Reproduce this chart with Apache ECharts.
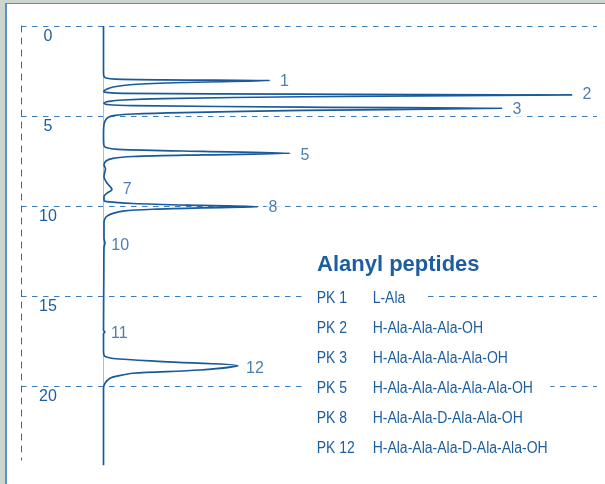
<!DOCTYPE html>
<html>
<head>
<meta charset="utf-8">
<script src="https://cdn.jsdelivr.net/npm/echarts@6/dist/echarts.min.js"></script>
<style>
  html, body { margin: 0; padding: 0; background: #ffffff; }
  #wrap { position: relative; width: 605px; height: 484px; overflow: hidden; background: #ffffff; }
  #stripL { position: absolute; left: 0; top: 0; width: 5px; height: 484px; background: #ccd6cf; }
  #lineL { position: absolute; left: 5px; top: 3px; width: 1.5px; height: 481px; background: #5e8fc3; }
  #stripT { position: absolute; left: 0; top: 0; width: 605px; height: 3px; background: #ccd6cf; }
  #lineT { position: absolute; left: 5px; top: 3px; width: 600px; height: 1px; background: #5e8fc3; }
  #chart { position: absolute; left: 0; top: 0; width: 605px; height: 484px; }
</style>
</head>
<body>
<div id="wrap">
  <div id="stripL"></div><div id="stripT"></div><div id="lineL"></div><div id="lineT"></div>
  <div id="chart"></div>
</div>
<script>
// ---- data ----
// retention time (min) of each trace point
const traceTime = [
  0, 2.6, 2.8, 2.89, 2.95, 2.99, 3.03, 3.14, 3.25, 3.39, 3.53, 3.64,
  3.69, 3.74, 3.79, 3.83, 3.93, 4.03, 4.11, 4.19, 4.29,
  4.36, 4.42, 4.51, 4.57, 4.69, 4.81, 4.89, 4.97, 5.08, 5.28, 5.56, 6.1,
  6.6, 6.75, 6.85, 6.97, 7.07, 7.16, 7.25, 7.35, 7.5, 7.72,
  7.94, 8.17, 8.39, 8.72, 9.08, 9.28, 9.47, 9.67,
  9.76, 9.86, 9.97, 10.04, 10.1, 10.18, 10.28, 10.41, 10.56, 10.72, 10.94,
  11.8, 12.06, 12.3, 14, 16.9, 17.0, 17.1, 18.1,
  18.28, 18.36, 18.47, 18.64, 18.87, 19.11, 19.29, 19.44, 19.57, 19.85, 20.13, 24.4
];
// detector signal of each trace point (arbitrary units)
const traceSignal = [
  0.5, 0.5, 1, 3, 12, 60, 167, 80, 30, 10, 3, 0.8,
  3, 20, 200, 469, 200, 60, 20, 6, 1,
  4, 30, 200, 399, 200, 80, 30, 12, 5, 2, 0.8, 0.5,
  0.8, 3, 15, 100, 187, 100, 30, 10, 3, 1,
  2.5, 1.5, 1, 4, 9, 4, 1, 1,
  4, 30, 100, 155, 100, 50, 20, 10, 4, 1.8, 1,
  1, 2, 1, 0.8, 0.5, 1.8, 0.5, 0.5,
  1, 2, 10, 60, 135, 97, 30, 15, 7, 2, 0.5, 0.5
];
const peakNames = ['1', '2', '3', '5', '7', '8', '10', '11', '12'];
const peakLabelTime = [3.07, 3.83, 4.62, 7.22, 9.1, 10.08, 12.2, 17.07, 19.02];
const peakLabelSignal = [181.5, 484, 414, 202, 24.3, 170, 17.2, 16.3, 152];
const timeTicks = [0, 5, 10, 15, 20];
const tableTitle = 'Alanyl peptides';
const pkLabels = ['PK 1', 'PK 2', 'PK 3', 'PK 5', 'PK 8', 'PK 12'];
const pkCompounds = [
  'L-Ala',
  'H-Ala-Ala-Ala-OH',
  'H-Ala-Ala-Ala-Ala-OH',
  'H-Ala-Ala-Ala-Ala-Ala-OH',
  'H-Ala-Ala-D-Ala-Ala-OH',
  'H-Ala-Ala-Ala-D-Ala-Ala-OH'
];

// ---- styling ----
const FONT = '"Liberation Sans", Arial, Helvetica, sans-serif';
const TEXT = '#1d5e9f';
const DASH = '#3a7cbc';
const TRACE = '#1a5a9a';

const chart = echarts.init(document.getElementById('chart'), null, { renderer: 'canvas' });

const tableGraphics = [
  {
    type: 'text', x: 317, y: 264.5, z: 10,
    style: { text: tableTitle, font: 'bold 22px ' + FONT, fill: TEXT, textVerticalAlign: 'middle', textAlign: 'left' }
  }
];
pkLabels.forEach((pk, i) => {
  tableGraphics.push({
    type: 'text', x: 307, y: 298.3 + 30 * i, z: 10, scaleX: 0.875,
    style: {
      text: '{pk|' + pk + '}{nm|' + pkCompounds[i] + '}',
      fill: TEXT,
      fontFamily: FONT,
      fontSize: 16,
      verticalAlign: 'middle',
      align: 'left',
      backgroundColor: '#ffffff',
      padding: [3, 20, 3, 11],
      rich: {
        pk: { width: 64, fontSize: 16, fontFamily: FONT, fill: TEXT },
        nm: { fontSize: 16, fontFamily: FONT, fill: TEXT }
      }
    }
  });
});

const option = {
  animation: false,
  backgroundColor: 'transparent',
  grid: { left: 21, right: 8, top: 26, height: 434, containLabel: false },
  xAxis: {
    type: 'value', min: -82, max: 494, show: false,
    splitLine: { show: false }
  },
  yAxis: {
    type: 'value', inverse: true, min: 0, max: 24.11, interval: 5,
    axisLine: { show: true, onZero: false, lineStyle: { color: '#2a6db0', width: 1, type: [6, 6] } },
    axisTick: { show: false },
    splitLine: { show: true, showMaxLine: false, lineStyle: { color: DASH, width: 1, type: [5.5, 5.5] } },
    axisLabel: {
      inside: true, margin: 27, align: 'center', verticalAlign: 'top',
      lineHeight: 22, showMaxLabel: false,
      color: TEXT, fontSize: 16, fontFamily: FONT,
      formatter: v => (timeTicks.indexOf(v) >= 0 ? String(v) : '')
    }
  },
  series: [
    {
      // zero-signal reference line, drawn beneath the trace
      type: 'line',
      data: [],
      z: 1,
      markLine: {
        z: 1, zlevel: 0,
        silent: true, symbol: 'none', animation: false,
        label: { show: false },
        lineStyle: { color: '#a7c1db', width: 1, type: 'solid' },
        data: [{ xAxis: 0 }]
      }
    },
    {
      type: 'line',
      data: traceTime.map((t, i) => [traceSignal[i], t]),
      showSymbol: false, symbol: 'none', clip: false,
      smooth: 0.3,
      lineStyle: { color: TRACE, width: 1.7 },
      z: 3
    },
    {
      type: 'scatter',
      data: peakNames.map((n, i) => ({ name: n, value: [peakLabelSignal[i], peakLabelTime[i]] })),
      symbolSize: 1,
      itemStyle: { color: 'transparent' },
      z: 5,
      label: {
        show: true, position: 'inside', formatter: '{b}',
        color: TEXT, fontSize: 16, fontFamily: FONT,
        align: 'center', verticalAlign: 'middle',
        backgroundColor: '#ffffff', padding: [0, 2]
      }
    }
  ],
  graphic: tableGraphics
};
chart.setOption(option);
</script>
</body>
</html>
